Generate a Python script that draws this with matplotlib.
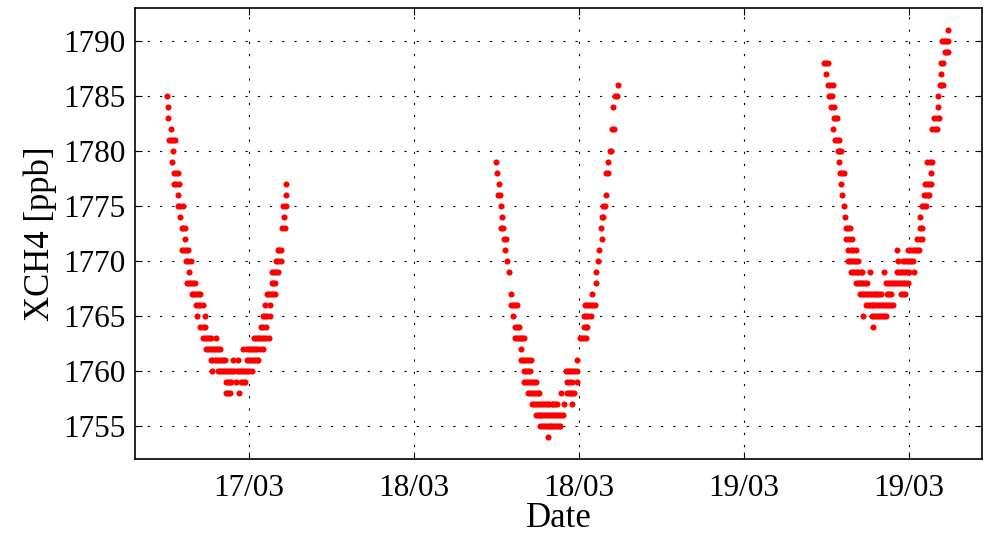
import datetime as dt
import numpy as np
import matplotlib
matplotlib.use('Agg')
import matplotlib.pyplot as plt
import matplotlib.dates as mdates

# XCH4 samples, hour of day (UTC) and value in ppb, one list per day
hours_17 = [6.06, 6.11, 6.13, 6.30,
	6.21, 6.35, 6.50, 6.64,
	6.47, 6.42,
	6.57, 6.72, 6.86,
	6.57, 6.72, 6.91, 14.72,
	6.86, 14.72,
	6.86, 7.02, 7.18, 14.50, 14.69,
	6.98, 14.52,
	7.10, 7.24, 7.37, 14.38, 14.59,
	7.35,
	7.15, 7.30, 7.45, 7.59, 14.08, 14.22, 14.35,
	7.42, 7.60, 7.78, 13.94, 14.12, 14.30,
	7.66, 13.70, 13.85, 14.00, 14.13,
	7.52, 7.66, 7.81, 7.96, 8.10, 13.65, 13.78, 13.92,
	7.83, 7.96, 8.09, 8.22, 8.34, 8.46, 13.29, 13.44, 13.59, 13.74, 13.89,
	8.15, 8.30, 8.45, 8.63, 13.14, 13.53,
	8.22, 8.80, 13.04, 13.18, 13.35, 13.53,
	8.46, 8.64, 8.82, 12.87, 13.05, 13.24,
	8.68, 8.82, 8.96, 9.10, 9.21, 9.62, 12.35, 12.50, 12.65, 12.80, 12.95, 13.10, 13.25, 13.45,
	8.87, 9.02, 9.17, 9.32, 9.47, 9.62, 9.76, 9.89, 11.54, 11.88, 12.02, 12.17, 12.32, 12.47, 12.62, 12.77, 12.99,
	9.21, 9.35, 9.50, 9.65, 9.80, 9.95, 10.10, 10.25, 10.84, 11.22, 11.83, 11.98, 12.13, 12.28, 12.43, 12.58, 12.68,
	9.28, 9.77, 9.90, 10.05, 10.20, 10.35, 10.50, 10.65, 10.80, 10.95, 11.10, 11.25, 11.40, 11.55, 11.70, 11.85, 12.00, 12.19,
	10.30, 10.45, 10.60, 10.69, 11.05, 11.39, 11.55, 11.71,
	10.35, 10.50, 10.62, 11.25]
ch4_17 = [1785, 1784, 1783, 1782,
	1781, 1781, 1781, 1781,
	1780, 1779,
	1778, 1778, 1778,
	1777, 1777, 1777, 1777,
	1776, 1776,
	1775, 1775, 1775, 1775, 1775,
	1774, 1774,
	1773, 1773, 1773, 1773, 1773,
	1772,
	1771, 1771, 1771, 1771, 1771, 1771, 1771,
	1770, 1770, 1770, 1770, 1770, 1770,
	1769, 1769, 1769, 1769, 1769,
	1768, 1768, 1768, 1768, 1768, 1768, 1768, 1768,
	1767, 1767, 1767, 1767, 1767, 1767, 1767, 1767, 1767, 1767, 1767,
	1766, 1766, 1766, 1766, 1766, 1766,
	1765, 1765, 1765, 1765, 1765, 1765,
	1764, 1764, 1764, 1764, 1764, 1764,
	1763, 1763, 1763, 1763, 1763, 1763, 1763, 1763, 1763, 1763, 1763, 1763, 1763, 1763,
	1762, 1762, 1762, 1762, 1762, 1762, 1762, 1762, 1762, 1762, 1762, 1762, 1762, 1762, 1762, 1762, 1762,
	1761, 1761, 1761, 1761, 1761, 1761, 1761, 1761, 1761, 1761, 1761, 1761, 1761, 1761, 1761, 1761, 1761,
	1760, 1760, 1760, 1760, 1760, 1760, 1760, 1760, 1760, 1760, 1760, 1760, 1760, 1760, 1760, 1760, 1760, 1760,
	1759, 1759, 1759, 1759, 1759, 1759, 1759, 1759,
	1758, 1758, 1758, 1758]

hours_18 = [14.81,
	14.60, 14.74,
	14.47,
	14.42, 14.52,
	14.25, 14.36,
	5.96, 14.11,
	6.01, 13.98, 14.10,
	6.16,
	6.13, 6.23, 13.94,
	6.30, 13.78, 13.88,
	6.38, 13.66, 13.76,
	6.36, 6.48, 13.58,
	6.52, 6.66, 13.65,
	6.62, 13.43,
	6.74, 13.36,
	6.89, 13.24,
	13.24,
	7.03, 12.97,
	7.03, 7.18, 7.33, 7.47, 12.44, 12.58, 12.72, 12.86, 13.01, 13.16,
	7.18, 12.34, 12.50, 12.65, 12.85,
	7.37, 7.52, 7.66, 12.34, 12.48, 12.61,
	7.35, 7.48, 7.62, 7.75, 7.89, 8.02, 12.07, 12.22, 12.37, 12.51,
	7.76,
	7.81, 7.95, 8.09, 8.22, 8.36, 8.49, 11.88,
	8.00, 8.15, 8.30, 8.44, 11.03, 11.18, 11.33, 11.48, 11.63, 11.83,
	8.02, 8.16, 8.30, 8.44, 8.58, 8.72, 8.85, 11.13, 11.30, 11.47, 11.83,
	8.32, 8.46, 8.60, 8.74, 8.88, 9.00, 9.12, 10.69, 11.13, 11.26, 11.39, 11.52, 11.64,
	8.61, 8.75, 8.89, 9.03, 9.17, 9.31, 9.45, 9.59, 9.72, 9.84, 10.01, 10.13, 10.25, 10.38, 10.91, 11.47,
	8.85, 8.99, 9.13, 9.27, 9.41, 9.55, 9.69, 9.83, 9.97, 10.11, 10.25, 10.39, 10.53, 10.67, 10.81,
	9.16, 9.30, 9.44, 9.58, 9.72, 9.86, 10.00, 10.14, 10.28, 10.42, 10.55, 10.62,
	9.72]
ch4_18 = [1786,
	1785, 1785,
	1784,
	1782, 1782,
	1780, 1780,
	1779, 1779,
	1778, 1778, 1778,
	1777,
	1776, 1776, 1776,
	1775, 1775, 1775,
	1774, 1774, 1774,
	1773, 1773, 1773,
	1772, 1772, 1772,
	1771, 1771,
	1770, 1770,
	1769, 1769,
	1768,
	1767, 1767,
	1766, 1766, 1766, 1766, 1766, 1766, 1766, 1766, 1766, 1766,
	1765, 1765, 1765, 1765, 1765,
	1764, 1764, 1764, 1764, 1764, 1764,
	1763, 1763, 1763, 1763, 1763, 1763, 1763, 1763, 1763, 1763,
	1762,
	1761, 1761, 1761, 1761, 1761, 1761, 1761,
	1760, 1760, 1760, 1760, 1760, 1760, 1760, 1760, 1760, 1760,
	1759, 1759, 1759, 1759, 1759, 1759, 1759, 1759, 1759, 1759, 1759,
	1758, 1758, 1758, 1758, 1758, 1758, 1758, 1758, 1758, 1758, 1758, 1758, 1758,
	1757, 1757, 1757, 1757, 1757, 1757, 1757, 1757, 1757, 1757, 1757, 1757, 1757, 1757, 1757, 1757,
	1756, 1756, 1756, 1756, 1756, 1756, 1756, 1756, 1756, 1756, 1756, 1756, 1756, 1756, 1756,
	1755, 1755, 1755, 1755, 1755, 1755, 1755, 1755, 1755, 1755, 1755, 1755,
	1754]

hours_19 = [14.84,
	14.38, 14.53, 14.68, 14.84,
	14.59, 14.72, 14.81,
	5.79, 5.95, 6.11, 14.30, 14.50,
	5.99, 14.30,
	6.11, 6.28, 6.45, 14.23, 14.35, 14.47,
	6.16, 6.28, 6.40, 14.08,
	6.35, 6.52, 14.13,
	6.52, 6.63, 6.74, 13.82, 14.00, 14.18,
	6.47, 13.70, 13.85, 14.01,
	6.62, 6.77, 6.93,
	6.81, 6.93, 7.05,
	6.91, 13.31, 13.50, 13.70,
	6.96, 7.11, 7.27, 13.60,
	7.08, 13.16, 13.30, 13.45, 13.60,
	7.15, 13.07, 13.20, 13.34, 13.48,
	7.27, 12.92, 13.09, 13.26,
	7.37, 12.82,
	7.39, 7.56, 7.73, 12.78, 12.92,
	7.42, 7.62, 7.83, 12.61, 12.76, 12.92,
	7.59, 7.77, 7.95, 8.12, 11.10, 11.95, 12.10, 12.25, 12.40, 12.56, 12.73,
	7.54, 7.70, 7.86, 8.01, 8.17, 8.32, 11.22, 11.59, 11.73, 11.87, 12.01, 12.15, 12.29,
	7.76, 7.90, 8.04, 8.18, 8.32, 8.47, 8.61, 9.16, 10.16, 11.10, 11.25, 11.40, 11.55, 11.70, 11.85, 12.00, 12.39,
	8.12, 8.26, 8.40, 8.54, 8.68, 8.82, 8.95, 10.35, 10.49, 10.63, 10.77, 10.91, 11.05, 11.19, 11.33, 11.47, 11.61, 11.75, 11.95,
	8.44, 8.58, 8.72, 8.86, 9.00, 9.14, 9.28, 9.42, 9.56, 9.70, 9.83, 9.96, 10.42, 10.55, 10.67, 11.39, 11.55, 11.71,
	8.85, 8.99, 9.13, 9.27, 9.41, 9.55, 9.69, 9.83, 9.97, 10.11, 10.25, 10.39, 10.53, 10.67, 10.84,
	8.68, 9.31, 9.45, 9.59, 9.73, 9.87, 10.01, 10.15, 10.30,
	9.41]
ch4_19 = [1791,
	1790, 1790, 1790, 1790,
	1789, 1789, 1789,
	1788, 1788, 1788, 1788, 1788,
	1787, 1787,
	1786, 1786, 1786, 1786, 1786, 1786,
	1785, 1785, 1785, 1785,
	1784, 1784, 1784,
	1783, 1783, 1783, 1783, 1783, 1783,
	1782, 1782, 1782, 1782,
	1781, 1781, 1781,
	1780, 1780, 1780,
	1779, 1779, 1779, 1779,
	1778, 1778, 1778, 1778,
	1777, 1777, 1777, 1777, 1777,
	1776, 1776, 1776, 1776, 1776,
	1775, 1775, 1775, 1775,
	1774, 1774,
	1773, 1773, 1773, 1773, 1773,
	1772, 1772, 1772, 1772, 1772, 1772,
	1771, 1771, 1771, 1771, 1771, 1771, 1771, 1771, 1771, 1771, 1771,
	1770, 1770, 1770, 1770, 1770, 1770, 1770, 1770, 1770, 1770, 1770, 1770, 1770,
	1769, 1769, 1769, 1769, 1769, 1769, 1769, 1769, 1769, 1769, 1769, 1769, 1769, 1769, 1769, 1769, 1769,
	1768, 1768, 1768, 1768, 1768, 1768, 1768, 1768, 1768, 1768, 1768, 1768, 1768, 1768, 1768, 1768, 1768, 1768, 1768,
	1767, 1767, 1767, 1767, 1767, 1767, 1767, 1767, 1767, 1767, 1767, 1767, 1767, 1767, 1767, 1767, 1767, 1767,
	1766, 1766, 1766, 1766, 1766, 1766, 1766, 1766, 1766, 1766, 1766, 1766, 1766, 1766, 1766,
	1765, 1765, 1765, 1765, 1765, 1765, 1765, 1765, 1765,
	1764]

days = [17, 18, 19]
y_ticks = [1755, 1760, 1765, 1770, 1775, 1780, 1785, 1790]


def to_dates(day, hours):
	base = dt.datetime(2014, 3, day)
	return [base + dt.timedelta(hours=h) for h in hours]


plt.rcParams['font.family'] = ['Liberation Serif', 'DejaVu Serif']

fig = plt.figure(figsize=(9.89, 5.33), dpi=100)
ax = fig.add_axes([0.1365, 0.1388, 0.8564, 0.8462])

for day, hrs, vals in zip(days, [hours_17, hours_18, hours_19], [ch4_17, ch4_18, ch4_19]):
	ax.plot(to_dates(day, hrs), vals, 'o', color='red', ms=4.4, mew=0)

ax.set_xlim(dt.datetime(2014, 3, 17, 3, 43), dt.datetime(2014, 3, 19, 17, 18))
ax.set_ylim(1752, 1793)
ax.set_yticks(y_ticks)

xt = [dt.datetime(2014, 3, 17, 12) + dt.timedelta(hours=12 * i) for i in range(5)]
ax.set_xticks(xt)
ax.xaxis.set_major_formatter(mdates.DateFormatter('%d/%m'))

ax.grid(True, color='k', linestyle=(0, (2, 9)), linewidth=0.8)
ax.tick_params(direction='in', top=True, right=True, length=5, width=0.8, labelsize=22.5)
ax.tick_params(axis='x', pad=11)
ax.tick_params(axis='y', pad=7)
for sp in ax.spines.values():
	sp.set_linewidth(1.2)

ax.set_xlabel('Date', fontsize=25, labelpad=-1)
ax.set_ylabel('XCH4 [ppb]', fontsize=25, labelpad=4)

fig.savefig('out.png', dpi=100)
